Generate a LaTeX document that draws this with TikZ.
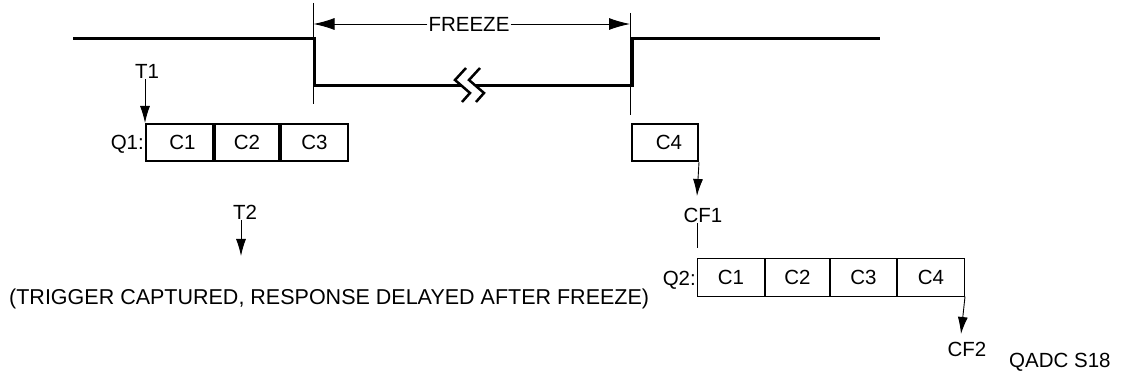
\documentclass[tikz,border=0pt]{standalone}
\usepackage{fontspec}
\setmainfont{Liberation Sans}
\usetikzlibrary{arrows.meta, positioning}

\begin{document}
\begin{tikzpicture}[x=1pt, y=-1pt,
  font=\fontsize{20.5}{24}\selectfont,
  wave/.style={line width=3pt},
  marker/.style={line width=0.9pt},
  arr/.style={line width=0.9pt, -{Latex[length=17pt,width=10pt]}},
  bigarr/.style={line width=0.9pt, -{Latex[length=21pt,width=12pt]}},
  lbl/.style={inner sep=1pt},
  cellA/.style={draw, line width=2pt, minimum height=37pt, inner sep=0pt, anchor=west},
  cellB/.style={draw, line width=1pt, minimum height=37pt, inner sep=0pt, anchor=west}]
\useasboundingbox (0,0) rectangle (1121,379);

\draw[wave] (73,39) -- (314,39) -- (314,86) -- (462,86); %low level
\draw[wave, line width=2.5pt] (466,68) -- (455,80) -- (470,93) -- (462,102); %break
\draw[wave, line width=2.5pt] (480,68) -- (469,80) -- (484,93) -- (476,102);
\draw[wave] (476,86) -- (632,86) -- (632,39) -- (880,39); %high again

% freeze window
\coordinate (mla) at (313.5,3);
\coordinate (mlb) at (313.5,104);
\coordinate (mra) at (630,13);
\coordinate (mrb) at (630,115);
\draw[marker] (mla) -- (mlb);
\draw[marker] (mra) -- (mrb);
\node[lbl] (freeze) at (469,24) {FREEZE};
\draw[bigarr] (freeze.west) -- (freeze.west -| mla);
\draw[bigarr] (freeze.east) -- (freeze.east -| mra);

% queue 1
\node[cellA, minimum width=67pt] (qa1) at (145,142.5) {\hspace{6pt}C1};
\node[cellA, minimum width=64pt] (qa2) at (qa1.east) {C2};
\node[cellA, minimum width=67pt] (qa3) at (qa2.east) {C3};
\node[lbl, anchor=east] (qa) at ([yshift=-1.5pt]qa1.west) {Q1:};
\node[lbl] (t1) at (147,71) {T1};
\draw[arr] (t1.south -| qa1.north west) -- (qa1.north west);

\node[lbl] (t2) at (245,212) {T2};
\coordinate (t2tip) at (241,256);
\draw[arr] (t2.south -| t2tip) -- (t2tip);
\node[lbl, anchor=west, font=\fontsize{21.5}{25}\selectfont] (note) at (8,299) {(TRIGGER CAPTURED, RESPONSE DELAYED AFTER FREEZE)};

% C4 after freeze
\node[cellA, minimum width=66pt] (c4) at (631,142.5) {\hspace{8pt}C4};
\coordinate (cf1tip) at (697,196);
\draw[arr] (c4.south east) -- (cf1tip);
\node[lbl] (cf1) at (703,215) {CF1};

% queue 2
\node[cellB, minimum width=67pt] (qb1) at (697,277.5) {C1};
\node[cellB, minimum width=64pt] (qb2) at (qb1.east) {C2};
\node[cellB, minimum width=66pt] (qb3) at (qb2.east) {C3};
\node[cellB, minimum width=67pt] (qb4) at (qb3.east) {C4};
\node[lbl, anchor=east] (qb) at ([yshift=-3pt]qb1.west) {Q2:};
\coordinate (cf1end) at (697,248);
\draw[marker] (cf1.south -| cf1end) -- (cf1end);
\coordinate (cf2tip) at (961,334);
\draw[arr] (qb4.south east) -- (cf2tip);
\node[lbl] (cf2) at (967,349) {CF2};
\node[lbl, anchor=west] (fig) at (1008,362) {QADC S18};
\end{tikzpicture}
\end{document}
